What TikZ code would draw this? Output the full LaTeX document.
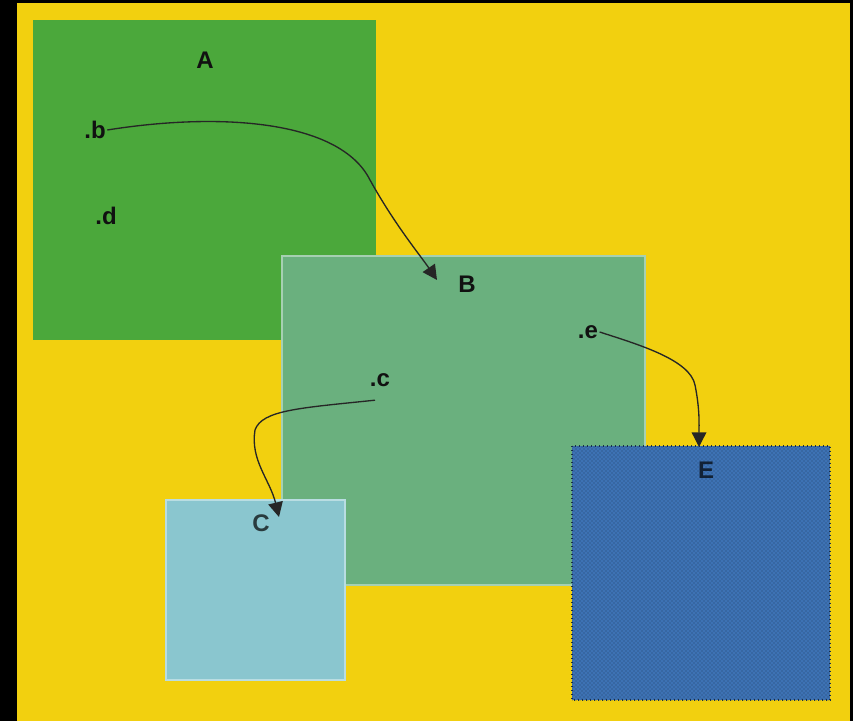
\documentclass[tikz,border=0pt]{standalone}
\usepackage{fontspec}
\setmainfont{Liberation Sans}
\usetikzlibrary{arrows.meta,patterns}
\definecolor{bgyellow}{HTML}{F2D00F}
\definecolor{agreen}{HTML}{4BA83B}
\definecolor{bgreen}{HTML}{6AB07E}
\definecolor{cblue}{HTML}{8AC6CF}
\definecolor{eblue}{HTML}{3D72B4}
\definecolor{lbl}{HTML}{111111}
\tikzset{
  lab/.style={font=\fontsize{18}{20}\selectfont\bfseries, text=lbl, inner sep=1pt},
  link/.style={draw=black!85, line width=1pt, -{Triangle[length=11pt,width=11pt]}},
}
\begin{document}
\begin{tikzpicture}[x=0.75pt,y=-0.75pt]
\useasboundingbox (0,0) rectangle (853,721);
\fill[black] (0,0) rectangle (853,721);
\fill[bgyellow] (17,3) rectangle (850,721);
% boxes
\fill[agreen] (33,20) rectangle (376,340);
\path[fill=bgreen, draw=bgreen!60!white, line width=1.5pt] (282,256) rectangle (645,585);
\path[fill=cblue, draw=cblue!60!white, line width=1.5pt] (166,500) rectangle (345,680);
\fill[eblue] (572,446) rectangle (830,700);
\fill[pattern=crosshatch dots, pattern color=eblue!60!black] (572,446) rectangle (830,700);
\draw[eblue!40!black, dotted, line width=1pt] (572,446) rectangle (830,700);
% labels
\node[lab] (A) at (205,60) {A};
\node[lab] (b) at (95,130) {.b};
\node[lab] (d) at (106,216) {.d};
\node[lab] (B) at (467,284) {B};
\node[lab] (e) at (588,332) {.e};
\node[lab] (c) at (380,380) {.c};
\node[lab, text=cblue!30!black] (C) at (261,523) {C};
\node[lab, text=eblue!30!black] (E) at (706,470) {E};
% connectors
\coordinate (bend1) at (437,280);
\coordinate (cend) at (279,517);
\coordinate (eend) at (699,447);
\draw[link] (b.east) .. controls (220,112) and (340,120) .. (370,180) .. controls (395,225) and (420,255) .. (bend1);
\draw[link] (c.south) ++(-5,12) .. controls (300,408) and (262,410) .. (255,430) .. controls (250,460) and (270,480) .. (cend);
\draw[link] (e.east) .. controls (640,345) and (690,360) .. (695,385) .. controls (700,410) and (699,425) .. (eend);
\end{tikzpicture}
\end{document}
